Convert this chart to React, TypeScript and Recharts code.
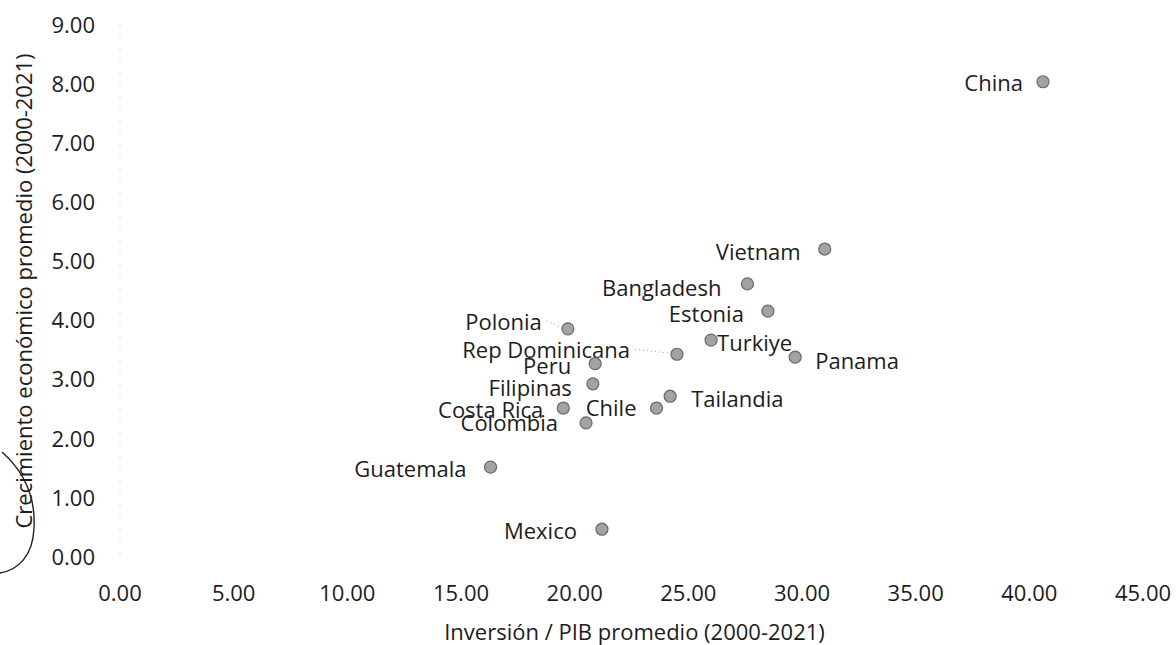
import React from 'react';
import { ScatterChart, Scatter, XAxis, YAxis, Label } from 'recharts';

const countries = [
  'China', 'Vietnam', 'Bangladesh', 'Estonia', 'Turkiye', 'Panama', 'Rep Dominicana', 'Polonia',
  'Peru', 'Filipinas', 'Costa Rica', 'Colombia', 'Chile', 'Tailandia', 'Guatemala', 'Mexico',
];
const inversionPib = [40.6, 31.0, 27.6, 28.5, 26.0, 29.7, 24.5, 19.7, 20.9, 20.8, 19.5, 20.5, 23.6, 24.2, 16.3, 21.2];
const crecimiento = [8.04, 5.21, 4.62, 4.16, 3.67, 3.38, 3.43, 3.86, 3.27, 2.93, 2.52, 2.27, 2.52, 2.72, 1.52, 0.47];
const xTicks = [0, 5, 10, 15, 20, 25, 30, 35, 40, 45];
const yTicks = [0, 1, 2, 3, 4, 5, 6, 7, 8, 9];

const data = countries.map((name, i) => ({ name, x: inversionPib[i], y: crecimiento[i] }));

const FONT = "'Open Sans', sans-serif";
const INK = '#1c1c1c';

// where each data label sits relative to its point (Excel-style manual placement)
const labelPlacement: Record<string, { side: 'left' | 'right'; dx: number; dy: number; leader?: boolean }> = {
  China: { side: 'left', dx: -20, dy: 0 },
  Vietnam: { side: 'left', dx: -24, dy: 2 },
  Bangladesh: { side: 'left', dx: -26, dy: 3 },
  Estonia: { side: 'left', dx: -24, dy: 2 },
  Turkiye: { side: 'right', dx: 6, dy: 2 },
  Panama: { side: 'right', dx: 20, dy: 3 },
  'Rep Dominicana': { side: 'left', dx: -47, dy: -5, leader: true },
  Polonia: { side: 'left', dx: -26, dy: -8, leader: true },
  Peru: { side: 'left', dx: -24, dy: 1 },
  Filipinas: { side: 'left', dx: -21, dy: 3 },
  'Costa Rica': { side: 'left', dx: -20, dy: 1 },
  Colombia: { side: 'left', dx: -28, dy: -1 },
  Chile: { side: 'left', dx: -20, dy: -1 },
  Tailandia: { side: 'right', dx: 21, dy: 2 },
  Guatemala: { side: 'left', dx: -24, dy: 1 },
  Mexico: { side: 'left', dx: -25, dy: 1 },
};

const PointWithLabel = (props: any) => {
  const { cx, cy, payload } = props;
  const p = labelPlacement[payload.name] || { side: 'left', dx: -24, dy: 0 };
  const tx = cx + p.dx;
  const ty = cy + p.dy;
  return (
    <g>
      {p.leader && (
        <line
          x1={tx + 5}
          y1={ty}
          x2={cx - 6}
          y2={cy - 1}
          stroke="#999"
          strokeWidth={1}
          strokeDasharray="1 3"
        />
      )}
      <circle cx={cx} cy={cy} r={6} fill="#a3a3a3" stroke="#6a6a6a" strokeWidth={1.2} />
      <text
        x={tx}
        y={ty}
        textAnchor={p.side === 'left' ? 'end' : 'start'}
        dominantBaseline="central"
        fontFamily={FONT}
        fontSize={22}
        fill={INK}
      >
        {payload.name}
      </text>
    </g>
  );
};

export default function App() {
  return (
    <div style={{ position: 'absolute', left: 0, top: 0, width: 1176, height: 645, background: '#fff' }}>
      <ScatterChart width={1176} height={645} margin={{ top: 25, right: 33, bottom: 0, left: 0 }}>
        <XAxis
          type="number"
          dataKey="x"
          domain={[0, 45]}
          ticks={xTicks}
          interval={0}
          height={88}
          axisLine={false}
          tickLine={false}
          tickSize={0}
          tickMargin={28}
          tickFormatter={(v: number) => v.toFixed(2)}
          tick={{ fontFamily: FONT, fontSize: 22, fill: INK }}
        >
          <Label
            content={({ viewBox }: any) => (
              <text
                x={viewBox.x + viewBox.width / 2 + 3}
                y={viewBox.y + 83}
                textAnchor="middle"
                fontFamily={FONT}
                fontSize={22}
                fill={INK}
              >
                Inversión / PIB promedio (2000-2021)
              </text>
            )}
          />
        </XAxis>
        <YAxis
          type="number"
          dataKey="y"
          domain={[0, 9]}
          ticks={yTicks}
          interval={0}
          width={120}
          axisLine={{ stroke: '#b5b5b5', strokeDasharray: '1 11' }}
          tickLine={false}
          tickSize={0}
          tickMargin={25}
          tickFormatter={(v: number) => v.toFixed(2)}
          tick={{ fontFamily: FONT, fontSize: 22, fill: INK }}
        >
          <Label
            content={({ viewBox }: any) => {
              const cy = viewBox.y + viewBox.height / 2;
              return (
                <text
                  x={32}
                  y={cy}
                  transform={`rotate(-90, 32, ${cy})`}
                  textAnchor="middle"
                  fontFamily={FONT}
                  fontSize={22}
                  fill={INK}
                >
                  Crecimiento económico promedio (2000-2021)
                </text>
              );
            }}
          />
        </YAxis>
        <Scatter data={data} isAnimationActive={false} shape={PointWithLabel} />
      </ScatterChart>
      {/* pen mark on the scanned page */}
      <svg width={60} height={600} style={{ position: 'absolute', left: 0, top: 0, pointerEvents: 'none' }}>
        <path
          d="M 2 452 C 20 468, 36 492, 34 528 C 33 556, 18 570, 0 573"
          fill="none"
          stroke="#222"
          strokeWidth={1.4}
        />
      </svg>
    </div>
  );
}
